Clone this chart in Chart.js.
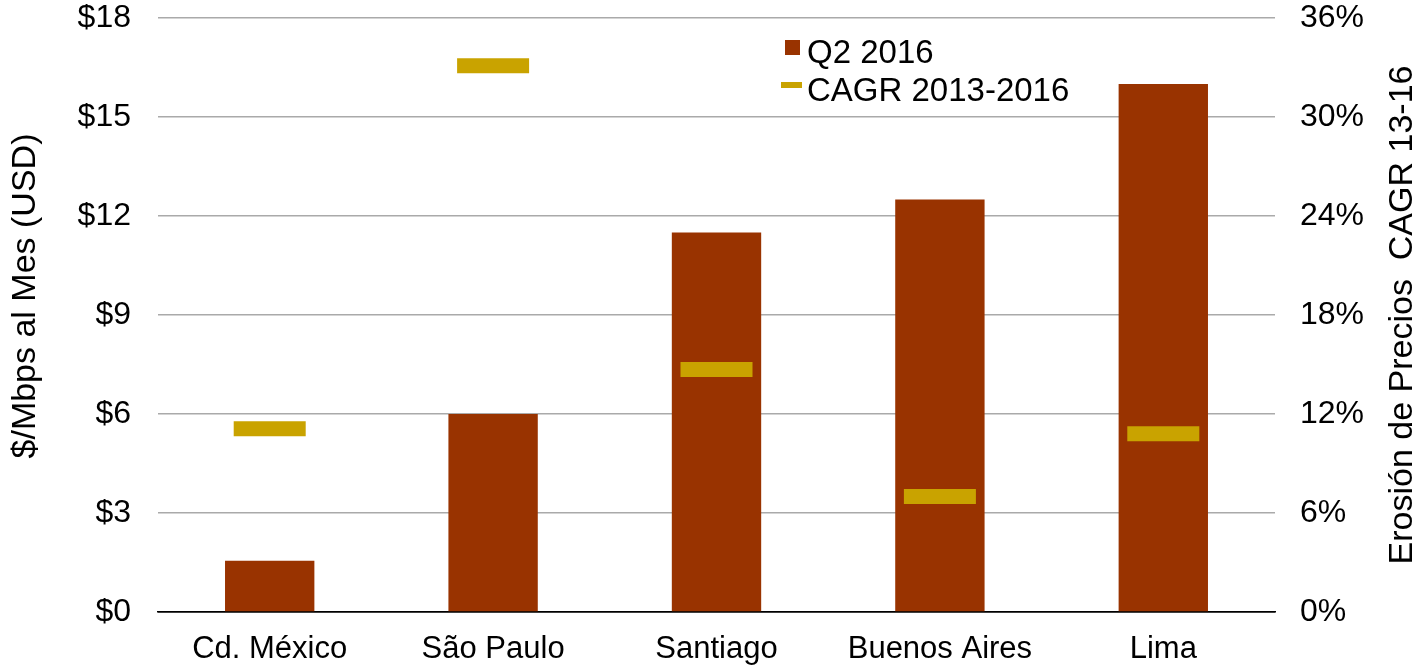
<!DOCTYPE html>
<html>
<head>
<meta charset="utf-8">
<script src="https://cdn.jsdelivr.net/npm/chart.js@4.4.1/dist/chart.umd.min.js"></script>
<style>
  html, body { margin: 0; padding: 0; background: #fff; }
  #wrap { width: 1424px; height: 665px; }
</style>
</head>
<body>
<div id="wrap"><canvas id="precios"></canvas></div>
<script>
// data
const cities = ['Cd. México', 'São Paulo', 'Santiago', 'Buenos Aires', 'Lima'];
const q2Prices = [1.55, 6.0, 11.5, 12.5, 16.0];      // $/Mbps per month
const cagrErosion = [11.1, 33.1, 14.7, 7.0, 10.8];  // % CAGR 2013-2016
const priceTicks = [0, 3, 6, 9, 12, 15, 18];
const pctTicks = [0, 6, 12, 18, 24, 30, 36];
const leftTitle = '$/Mbps al Mes (USD)';
const rightTitle = 'Erosión de Precios  CAGR 13-16';

const barColor = '#993300';
const cagrColor = '#C9A300';
const fontFamily = '"Liberation Sans", Arial, Helvetica, sans-serif';

//legend inside the plot + both axis titles reading bottom to top
const extraText = {
    id: 'extraText',
    afterDraw: function (chart) {
        const c = chart.ctx;
        const area = chart.chartArea;
        c.save();
        c.textBaseline = 'middle';
        c.font = '33px ' + fontFamily;
        c.fillStyle = barColor;
        c.fillRect(785, 40, 15, 15);
        c.fillStyle = '#000';
        c.fillText(chart.data.datasets[0].label, 807, 54);
        c.fillStyle = cagrColor;
        c.fillRect(781, 82, 21, 6);
        c.fillStyle = '#000';
        c.fillText(chart.data.datasets[1].label, 807, 92);

        c.textAlign = 'center';
        c.textBaseline = 'alphabetic';
        c.font = '34px ' + fontFamily;
        c.save();
        c.translate(35, 296);
        c.rotate(-Math.PI / 2);
        c.fillText(leftTitle, 0, 0);
        c.restore();

        c.save();
        c.translate(1412, (area.top + area.bottom) / 2);
        c.rotate(-Math.PI / 2);
        c.fillText(rightTitle, 0, 0);
        c.restore();
        c.restore();
    }
};

new Chart('precios', {
    data: {
        labels: cities,
        datasets: [{
            type: 'bar',
            label: 'Q2 2016',
            data: q2Prices,
            backgroundColor: barColor,
            yAxisID: 'y',
            barPercentage: 0.4,
            categoryPercentage: 1.0,
            order: 2
        }, {
            type: 'line',
            label: 'CAGR 2013-2016',
            data: cagrErosion,
            yAxisID: 'y1',
            showLine: false,
            pointStyle: 'line',
            pointRadius: 36,
            pointHoverRadius: 36,
            pointBorderWidth: 15,
            pointHoverBorderWidth: 15,
            pointBorderColor: cagrColor,
            borderColor: cagrColor,
            backgroundColor: cagrColor,
            order: 1
        }]
    },
    options: {
        responsive: true,
        maintainAspectRatio: false,
        animation: false,
        layout: { padding: 0, autoPadding: false },
        plugins: {
            legend: { display: false },
            tooltip: { enabled: false }
        },
        scales: {
            x: {
                grid: { display: false },
                border: { display: true, color: '#000', width: 1.5 },
                ticks: {
                    color: '#000',
                    font: { family: fontFamily, size: 31 },
                    padding: 11,
                    maxRotation: 0
                },
                afterFit: function (scale) { scale.height = 53; }
            },
            y: {
                position: 'left',
                min: 0,
                max: 18,
                afterBuildTicks: function (scale) {
                    scale.ticks = priceTicks.map(function (v) { return { value: v }; });
                },
                grid: {
                    drawTicks: false,
                    lineWidth: 1.5,
                    color: function (ctx) { return ctx.tick && ctx.tick.value === 0 ? '#000' : '#aaaaaa'; }
                },
                border: { display: false },
                ticks: {
                    color: '#000',
                    font: { family: fontFamily, size: 32 },
                    padding: 27,
                    callback: function (v) { return '$' + v; }
                },
                afterFit: function (scale) {
                    scale.width = 158;
                    scale.paddingTop = 18;
                    scale.paddingBottom = 0;
                }
            },
            y1: {
                position: 'right',
                min: 0,
                max: 36,
                afterBuildTicks: function (scale) {
                    scale.ticks = pctTicks.map(function (v) { return { value: v }; });
                },
                grid: { drawOnChartArea: false, drawTicks: false },
                border: { display: false },
                ticks: {
                    color: '#000',
                    font: { family: fontFamily, size: 32 },
                    padding: 25,
                    callback: function (v) { return v + '%'; }
                },
                afterFit: function (scale) {
                    scale.width = 149;
                    scale.paddingTop = 18;
                    scale.paddingBottom = 0;
                }
            }
        }
    },
    plugins: [extraText]
});
</script>
</body>
</html>
